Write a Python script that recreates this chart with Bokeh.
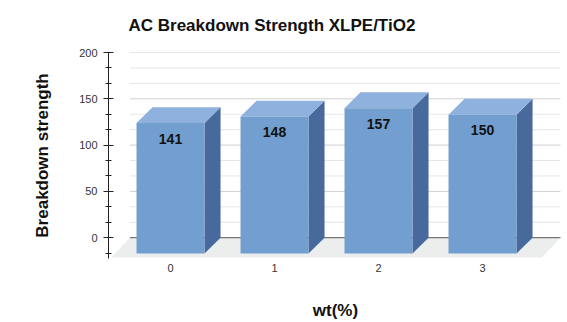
from bokeh.plotting import figure
from bokeh.models import FixedTicker, Range1d, ColumnDataSource
from bokeh.core.properties import value
from bokeh.embed import file_html
from bokeh.resources import INLINE

# Data
categories = ["0", "1", "2", "3"]
strength = [141, 148, 157, 150]
y_major = [0, 50, 100, 150, 200]

# 3D look: depth offsets in data units, bar width in category units
DX = 0.154      # horizontal depth shift
DY = 17.1       # vertical depth shift
BAR_W = 0.654
WALL_L, WALL_R = -0.39, 3.75
FLOOR_DX, FLOOR_DY = 0.18, 21.4

FONT = "Liberation Sans"

p = figure(width=567, height=322, output_backend="svg", toolbar_location=None,
           x_range=Range1d(-0.5962, 3.769), y_range=Range1d(-22.46, 200),
           min_border_left=108, min_border_right=5, min_border_top=51,
           min_border_bottom=63)
p.outline_line_color = None
p.xgrid.visible = False
p.ygrid.visible = False
p.background_fill_color = "white"

# title
p.title.text = "AC Breakdown Strength XLPE/TiO2"
p.title.align = "left"
p.title.offset = 20
p.title.vertical_align = "top"
p.title.standoff = 31
p.title.text_font = FONT
p.title.text_font_size = "17px"
p.title.text_font_style = "bold"
p.title.text_color = "#111111"

# back wall grid lines (major + 3 minor steps per interval)
step = 50 / 3
grid_vals = [k * step for k in range(1, 13)]
major_set = set(y_major)
minor_vals = [g for g in grid_vals if round(g) not in major_set]
major_vals = [g for g in grid_vals if round(g) in major_set]
p.segment(x0=[WALL_L] * len(minor_vals), x1=[WALL_R] * len(minor_vals),
          y0=minor_vals, y1=minor_vals, line_color="#e6e6e6", line_width=1)
p.segment(x0=[WALL_L] * len(major_vals), x1=[WALL_R] * len(major_vals),
          y0=major_vals, y1=major_vals, line_color="#cfcfcf", line_width=1)

# floor
p.patch(x=[WALL_L, WALL_R, WALL_R - FLOOR_DX, WALL_L - FLOOR_DX],
        y=[0, 0, -FLOOR_DY, -FLOOR_DY], fill_color="#eceeee", line_color=None)
p.segment(x0=[WALL_L], x1=[WALL_R], y0=[0], y1=[0], line_color="#555555", line_width=1)

# bars
xs = list(range(len(categories)))
front = ColumnDataSource(dict(
    left=[i - BAR_W / 2 for i in xs], right=[i + BAR_W / 2 for i in xs],
    bottom=[-DY] * len(xs), top=[v - DY for v in strength]))
top_xs, top_ys, side_xs, side_ys = [], [], [], []
for i, v in zip(xs, strength):
    l, r = i - BAR_W / 2, i + BAR_W / 2
    top_xs.append([l, r, r + DX, l + DX])
    top_ys.append([v - DY, v - DY, v, v])
    side_xs.append([r, r + DX, r + DX, r])
    side_ys.append([v - DY, v, 0, -DY])

p.patches(xs=side_xs, ys=side_ys, fill_color="#47699b", line_color=None)
p.patches(xs=top_xs, ys=top_ys, fill_color="#8fb1dd", line_color=None)
p.quad(left="left", right="right", bottom="bottom", top="top", source=front,
       fill_color="#729fcf", line_color=None)

# value labels on the front faces
p.text(x=xs, y=[v - 2 * DY for v in strength], text=[str(v) for v in strength],
       text_align="center", text_baseline="middle", text_font_size="14px",
       text_font_style="bold", text_color="#111111", text_font=value(FONT))

# axes
p.yaxis.ticker = FixedTicker(ticks=y_major,
                             minor_ticks=[k * step for k in range(-1, 13)])
p.yaxis.axis_line_color = "#222222"
p.yaxis.major_tick_line_color = "#222222"
p.yaxis.minor_tick_line_color = "#222222"
p.yaxis.major_tick_in = 5
p.yaxis.major_tick_out = 5
p.yaxis.minor_tick_in = 3
p.yaxis.minor_tick_out = 3
p.yaxis.major_label_standoff = 6
p.yaxis.major_label_text_font = FONT
p.yaxis.major_label_text_font_size = "11px"
p.yaxis.major_label_text_color = "#333333"
p.yaxis.axis_label = "Breakdown strength"
p.yaxis.axis_label_standoff = 24
p.yaxis.axis_label_text_font = FONT
p.yaxis.axis_label_text_font_size = "17px"
p.yaxis.axis_label_text_font_style = "bold"
p.yaxis.axis_label_text_color = "#111111"

p.xaxis.ticker = FixedTicker(ticks=xs)
p.xaxis.major_label_overrides = {i: c for i, c in zip(xs, categories)}
p.xaxis.axis_line_color = None
p.xaxis.major_tick_line_color = None
p.xaxis.minor_tick_line_color = None
p.xaxis.major_tick_out = 0
p.xaxis.major_label_standoff = 5
p.xaxis.major_label_text_font = FONT
p.xaxis.major_label_text_font_size = "11px"
p.xaxis.major_label_text_color = "#333333"
p.xaxis.axis_label = "wt(%)"
p.xaxis.axis_label_standoff = 26
p.xaxis.axis_label_text_line_height = 0.7
p.xaxis.axis_label_text_font = FONT
p.xaxis.axis_label_text_font_size = "17px"
p.xaxis.axis_label_text_font_style = "bold"
p.xaxis.axis_label_text_color = "#111111"

open("out.html", "w").write(file_html(p, INLINE))
